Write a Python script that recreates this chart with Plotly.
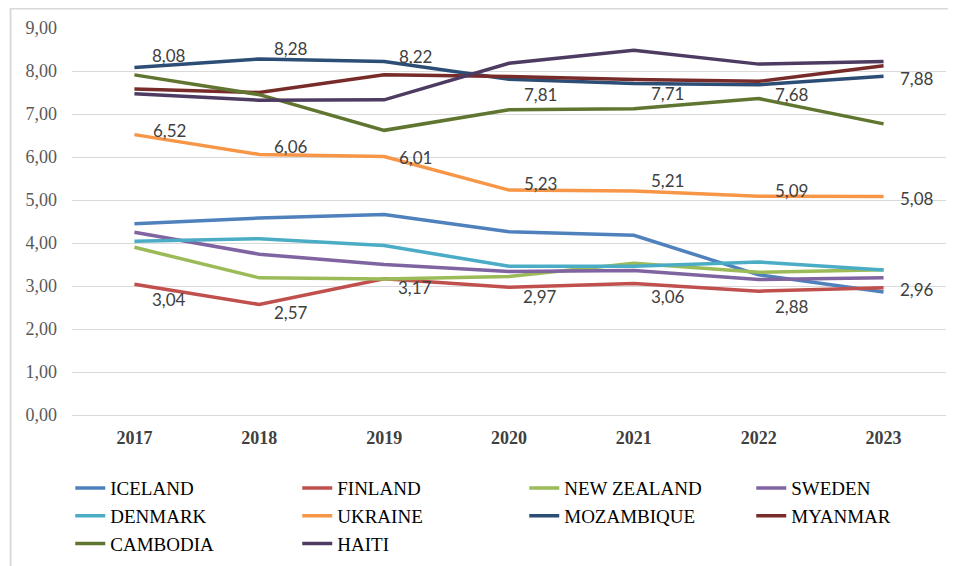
import plotly.graph_objects as go

years = ["2017", "2018", "2019", "2020", "2021", "2022", "2023"]

iceland = [4.45, 4.58, 4.66, 4.26, 4.18, 3.26, 2.86]
finland = [3.04, 2.57, 3.17, 2.97, 3.06, 2.88, 2.96]
new_zealand = [3.90, 3.19, 3.16, 3.22, 3.53, 3.32, 3.38]
sweden = [4.25, 3.74, 3.50, 3.34, 3.36, 3.15, 3.19]
denmark = [4.04, 4.10, 3.94, 3.46, 3.46, 3.56, 3.37]
ukraine = [6.52, 6.06, 6.01, 5.23, 5.21, 5.09, 5.08]
mozambique = [8.08, 8.28, 8.22, 7.81, 7.71, 7.68, 7.88]
myanmar = [7.58, 7.50, 7.91, 7.87, 7.80, 7.76, 8.12]
cambodia = [7.91, 7.45, 6.62, 7.10, 7.12, 7.36, 6.77]
haiti = [7.47, 7.32, 7.33, 8.18, 8.48, 8.16, 8.22]

series = [
    ("ICELAND", iceland, "#4F81BD"),
    ("FINLAND", finland, "#C0504D"),
    ("NEW ZEALAND", new_zealand, "#9BBB59"),
    ("SWEDEN", sweden, "#8064A2"),
    ("DENMARK", denmark, "#4BACC6"),
    ("UKRAINE", ukraine, "#F79646"),
    ("MOZAMBIQUE", mozambique, "#2C4D75"),
    ("MYANMAR", myanmar, "#772C2A"),
    ("CAMBODIA", cambodia, "#5F7530"),
    ("HAITI", haiti, "#4D3B62"),
]

# label offsets (pixels) for labelled series
label_dx = [35, 32, 31, 31, 34, 33, 33]
label_dy = {
    "MOZAMBIQUE": [12, 10, 5, -15, -10, -10, -2],
    "UKRAINE": [4, 8, -1, 7, 10, 6, -2],
    "FINLAND": [-15, -8, -9, -9, -13, -15, -2],
}

fig = go.Figure()
for name, vals, col in series:
    fig.add_trace(go.Scatter(
        x=years, y=vals, name=name, mode="lines",
        line=dict(color=col, width=3.5),
    ))

annotations = []
for name, vals, col in series:
    if name in label_dy:
        for i, v in enumerate(vals):
            annotations.append(dict(
                x=i, y=v, text=f"{v:.2f}".replace(".", ","),
                showarrow=False, xshift=label_dx[i], yshift=label_dy[name][i],
                font=dict(family="Lato", size=17, color="#404040"),
            ))

fig.update_layout(
    width=956, height=566,
    margin=dict(l=64, r=18, t=20, b=159, autoexpand=False),
    paper_bgcolor="white", plot_bgcolor="white",
    separators=", ",
    showlegend=True,
    legend=dict(
        orientation="h", xref="paper", yref="paper",
        x=-0.002, y=-0.14, xanchor="left", yanchor="top",
        font=dict(family="Liberation Serif", size=19, color="#000000"),
        entrywidth=182, entrywidthmode="pixels",
        traceorder="normal",
    ),
    annotations=annotations,
    shapes=[dict(type="rect", xref="paper", yref="paper",
                 x0=-0.0703, x1=1.2, y0=-1, y1=1.0505,
                 line=dict(color="#D9D9D9", width=2), layer="below")],
)
fig.update_xaxes(
    type="category", categoryorder="array", categoryarray=years,
    range=[-0.5, 6.5],
    showgrid=False, showline=False, ticks="",
    tickfont=dict(family="Liberation Serif", size=18, color="#404040", weight="bold"),
    ticklabelstandoff=10,
)
fig.update_yaxes(
    range=[0, 9], dtick=1, tickformat=".2f",
    showgrid=True, gridcolor="#D9D9D9", gridwidth=1,
    zeroline=True, zerolinecolor="#D9D9D9", zerolinewidth=1,
    showline=False, ticks="",
    tickfont=dict(family="Liberation Serif", size=18, color="#595959"),
    ticklabelstandoff=14,
)

fig.write_html("out.html")
